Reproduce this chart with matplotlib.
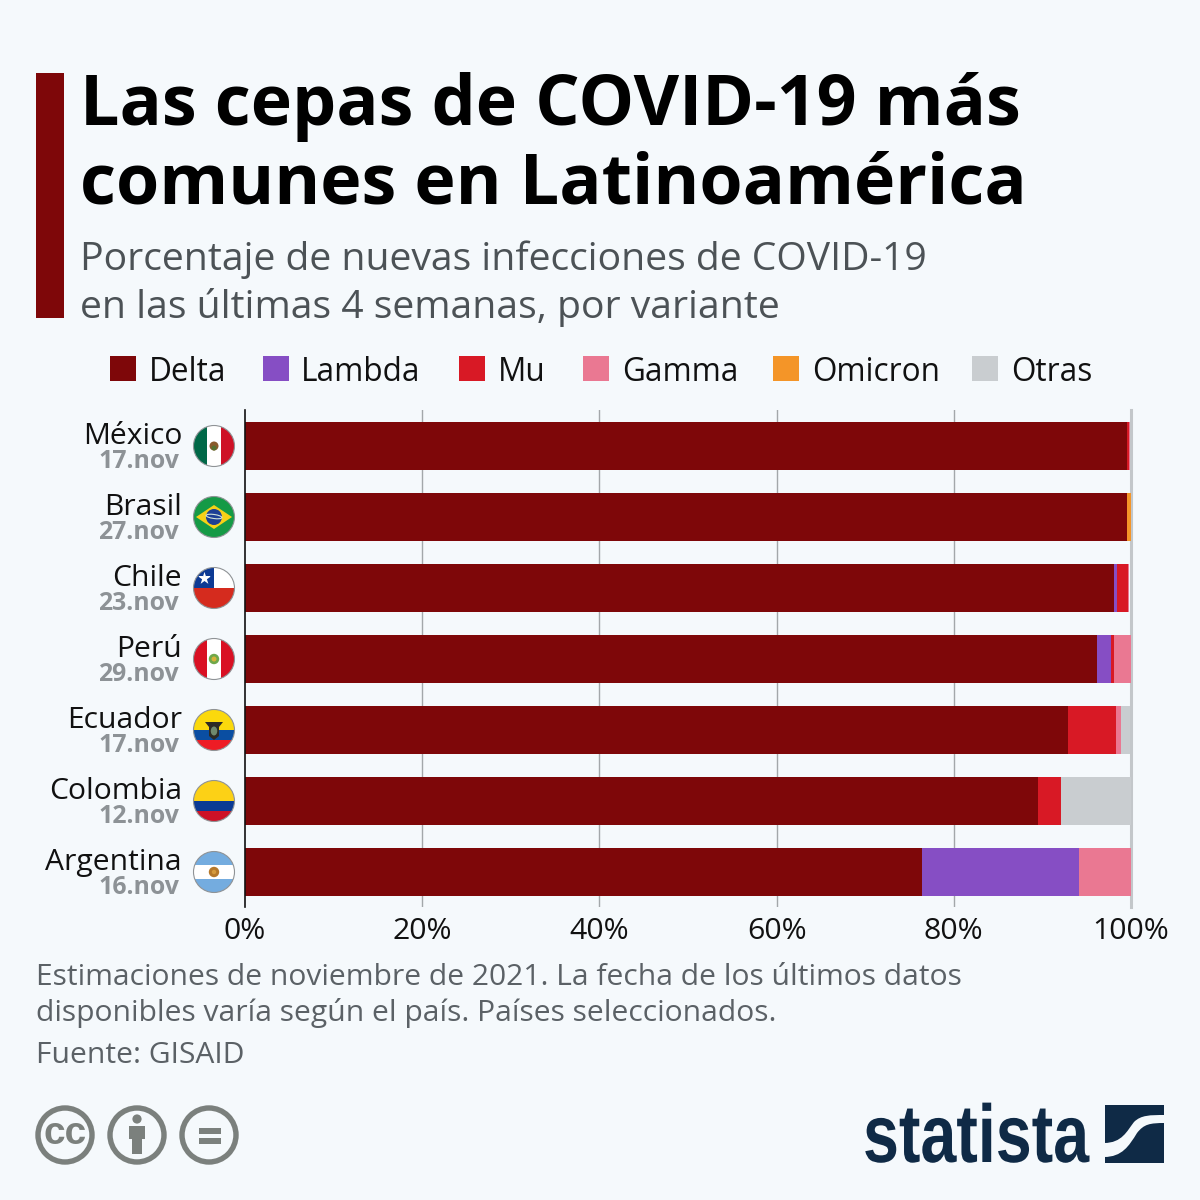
import matplotlib
matplotlib.use("Agg")
import matplotlib.pyplot as plt
from matplotlib.patches import Circle, Rectangle, Polygon, PathPatch, Ellipse
from matplotlib.path import Path
from matplotlib.patheffects import AbstractPathEffect
from matplotlib.transforms import Affine2D

countries = ["México", "Brasil", "Chile", "Perú", "Ecuador", "Colombia", "Argentina"]
dates = ["17.nov", "27.nov", "23.nov", "29.nov", "17.nov", "12.nov", "16.nov"]
variants = ["Delta", "Lambda", "Mu", "Gamma", "Omicron", "Otras"]
delta = [99.55, 99.5, 98.1, 96.2, 92.9, 89.5, 76.4]
lambda_ = [0, 0, 0.3, 1.5, 0, 0, 17.7]
mu = [0.25, 0, 1.3, 0.4, 5.4, 2.6, 0]
gamma = [0.1, 0, 0.1, 1.9, 0.6, 0, 5.9]
omicron = [0, 0.5, 0, 0, 0, 0, 0]
otras = [0, 0, 0, 0, 1.0, 7.9, 0]
series = [delta, lambda_, mu, gamma, omicron, otras]
colors = ["#7e0709", "#864ec4", "#d81925", "#ea7892", "#f49528", "#c9cdd0"]
xticks = [0, 20, 40, 60, 80, 100]

BG = "#f5f9fc"
FONT = "Open Sans"
plt.rcParams["font.family"] = [FONT, "DejaVu Sans"]


class SqueezeX(AbstractPathEffect):
    """Draw text glyphs horizontally narrowed (the text stays a real Text artist)."""
    def __init__(self, sx):
        super().__init__()
        self.sx = sx

    def draw_path(self, renderer, gc, tpath, affine, rgbFace=None):
        renderer.draw_path(gc, tpath, Affine2D().scale(self.sx, 1) + affine, rgbFace)


fig = plt.figure(figsize=(12, 12), dpi=100, facecolor=BG)

# pixel-space overlay
ov = fig.add_axes([0, 0, 1, 1], zorder=3)
ov.set_xlim(0, 1200)
ov.set_ylim(1200, 0)
ov.axis("off")
ov.patch.set_alpha(0)

# main chart
L, R, T, B = 245, 1131, 410, 907
ax = fig.add_axes([L / 1200, 1 - B / 1200, (R - L) / 1200, (B - T) / 1200], zorder=2)
ax.set_facecolor(BG)
step = 71
ax.set_xlim(0, 100)
ax.set_ylim((B - 446) / step, (T - 446) / step)
ax.set_axisbelow(True)
left = [0.0] * len(countries)
for vals, c, name in zip(series, colors, variants):
    ax.barh(range(len(countries)), vals, left=left, height=48 / step, color=c, label=name, linewidth=0)
    left = [a + b for a, b in zip(left, vals)]
for s in ["top", "right", "bottom"]:
    ax.spines[s].set_visible(False)
ax.spines["left"].set_color("#111111")
ax.spines["left"].set_linewidth(1.2)
ax.set_xticks(xticks)
ax.set_xticklabels([f"{v}%" for v in xticks], fontsize=21.8, color="#111111")
ax.tick_params(axis="x", length=0, pad=7)
ax.set_yticks([])
for v in xticks[1:-1]:
    ax.axvline(v, color="#a3a7aa", lw=1, zorder=0)
ax.axvline(100, color="#c3c7ca", lw=2.2, zorder=0, clip_on=False)
for i, (c, d) in enumerate(zip(countries, dates)):
    ax.annotate(c, xy=(0, i), xytext=(-63, 2), textcoords="offset pixels", ha="right", va="baseline",
                fontsize=21.6, color="#111111")
    ax.annotate(d, xy=(0, i), xytext=(-66, -22), textcoords="offset pixels", ha="right", va="baseline",
                fontsize=17.9, color="#8d9296", fontweight="bold", annotation_clip=False)

# header
ov.add_patch(Rectangle((36, 73), 28, 245, color="#7e0709", lw=0))
ov.text(79.5, 125, "Las cepas de COVID-19 más", fontsize=50.4, fontweight="bold", color="black", va="baseline")
ov.text(79.5, 203, "comunes en Latinoamérica", fontsize=50.4, fontweight="bold", color="black", va="baseline")
ov.text(80, 270, "Porcentaje de nuevas infecciones de COVID-19", fontsize=28.2, color="#4c5256", va="baseline")
ov.text(80, 318, "en las últimas 4 semanas, por variante", fontsize=28.2, color="#4c5256", va="baseline")

# legend
sw_x = [110, 263, 459, 583, 773, 972]
tx_x = [149, 301, 498, 622, 812, 1011]
for name, c, sx, tx in zip(variants, colors, sw_x, tx_x):
    ov.add_patch(Rectangle((sx, 356), 26, 25, color=c, lw=0))
    ov.text(tx, 381, name, fontsize=22.7, color="#111111", va="baseline")

# footer
ov.text(36, 985, "Estimaciones de noviembre de 2021. La fecha de los últimos datos", fontsize=21.6, color="#5b6166", va="baseline")
ov.text(36, 1021, "disponibles varía según el país. Países seleccionados.", fontsize=21.6, color="#5b6166", va="baseline")
ov.text(36, 1063, "Fuente: GISAID", fontsize=21.6, color="#5b6166", va="baseline")

# flags
def flag(i):
    cy = 446 + step * i
    cx = 214
    r = 20.5
    clip = Circle((cx, cy), r, transform=ov.transData)
    def add(p):
        ov.add_patch(p)
        p.set_clip_path(clip)
        return p
    def rect(x0, y0, x1, y1, c):
        add(Rectangle((cx + x0, cy + y0), x1 - x0, y1 - y0, color=c, lw=0))
    rect(-21, -21, 21, 21, "white")
    name = countries[i]
    if name == "México":
        rect(-21, -21, -7, 21, "#006847")
        rect(7, -21, 21, 21, "#ce1126")
        add(Circle((cx, cy), 4.5, color="#8a5a2b", lw=0))
        add(Circle((cx, cy + 2), 2.5, color="#55702f", lw=0))
    elif name == "Brasil":
        rect(-21, -21, 21, 21, "#159a46")
        add(Polygon([(cx - 18, cy), (cx, cy - 12), (cx + 18, cy), (cx, cy + 12)], color="#f7d117", lw=0))
        add(Circle((cx, cy), 8, color="#1d3f94", lw=0))
        add(Ellipse((cx, cy - 0.5), 16, 4, angle=8, fill=False, ec="#cfe3d8", lw=0.8))
    elif name == "Chile":
        rect(-21, 0, 21, 21, "#d52b1e")
        rect(-21, -21, 0, 0, "#0d3a94")
        ov.scatter([cx - 10], [cy - 10.5], marker="*", s=90, color="white", lw=0, zorder=3, clip_path=clip)
    elif name == "Perú":
        rect(-21, -21, -7, 21, "#d91023")
        rect(7, -21, 21, 21, "#d91023")
        add(Circle((cx, cy), 5.2, color="#6fa84a", lw=0))
        add(Circle((cx, cy), 2.5, color="#d7b23a", lw=0))
    elif name == "Ecuador":
        rect(-21, -21, 21, 0, "#fbd90c")
        rect(-21, 0, 21, 10, "#0a4ea2")
        rect(-21, 10, 21, 21, "#ee1c25")
        add(Polygon([(cx - 9, cy - 8), (cx + 9, cy - 8), (cx + 5, cy - 3), (cx + 5, cy + 6), (cx, cy + 10),
                     (cx - 5, cy + 6), (cx - 5, cy - 3)], color="#2c2a25", lw=0))
        add(Ellipse((cx, cy + 1), 6.5, 9, color="#6f8a6f", lw=0))
    elif name == "Colombia":
        rect(-21, -21, 21, 0, "#fcd116")
        rect(-21, 0, 21, 10, "#0b3a94")
        rect(-21, 10, 21, 21, "#ce1126")
    elif name == "Argentina":
        rect(-21, -21, 21, -7, "#74acdf")
        rect(-21, 7, 21, 21, "#74acdf")
        add(Circle((cx, cy), 5.2, color="#b5782a", lw=0))
        add(Circle((cx, cy), 2.2, color="#d59a3c", lw=0))
    ov.add_patch(Circle((cx, cy), r, fill=False, ec="#8f9396", lw=0.8))

for i in range(len(countries)):
    flag(i)

# licence icons
G = "#7b807d"
for cx in (65, 137, 209):
    ov.add_patch(Circle((cx, 1135), 27, fill=False, ec=G, lw=3.9))
ov.text(65, 1134.5, "cc", fontsize=28, fontweight="bold", color=G, ha="center", va="center",
        family=["Liberation Sans", "DejaVu Sans"])
ov.add_patch(Circle((137, 1119), 4.6, color=G, lw=0))
ov.add_patch(Polygon([(129, 1126), (145, 1126), (145, 1139), (142, 1139), (142, 1154), (132, 1154), (132, 1139), (129, 1139)],
                     color=G, lw=0))
ov.add_patch(Rectangle((199, 1128), 22, 5.5, color=G, lw=0))
ov.add_patch(Rectangle((199, 1138), 22, 5.5, color=G, lw=0))

# statista logo
NAVY = "#0f2a46"
ov.text(863, 1162, "statista", fontsize=59, fontweight="bold", color=NAVY, va="baseline",
        family=["Liberation Sans", "DejaVu Sans"], path_effects=[SqueezeX(0.788)])
ov.add_patch(Rectangle((1105, 1105), 59, 58, color=NAVY, lw=0))
band = Path(
    [(1104, 1143), (1122, 1143), (1127, 1131), (1134, 1122), (1141, 1115), (1150, 1115), (1165, 1115),
     (1165, 1123), (1150, 1123), (1144, 1124), (1137, 1133), (1129, 1146), (1122, 1157), (1104, 1157), (1104, 1143)],
    [Path.MOVETO, Path.CURVE4, Path.CURVE4, Path.CURVE4, Path.CURVE4, Path.CURVE4, Path.LINETO,
     Path.LINETO, Path.CURVE4, Path.CURVE4, Path.CURVE4, Path.CURVE4, Path.CURVE4, Path.CURVE4, Path.CLOSEPOLY])
ov.add_patch(PathPatch(band, fc=BG, ec="none"))

fig.savefig("out.png", dpi=100, facecolor=BG)
